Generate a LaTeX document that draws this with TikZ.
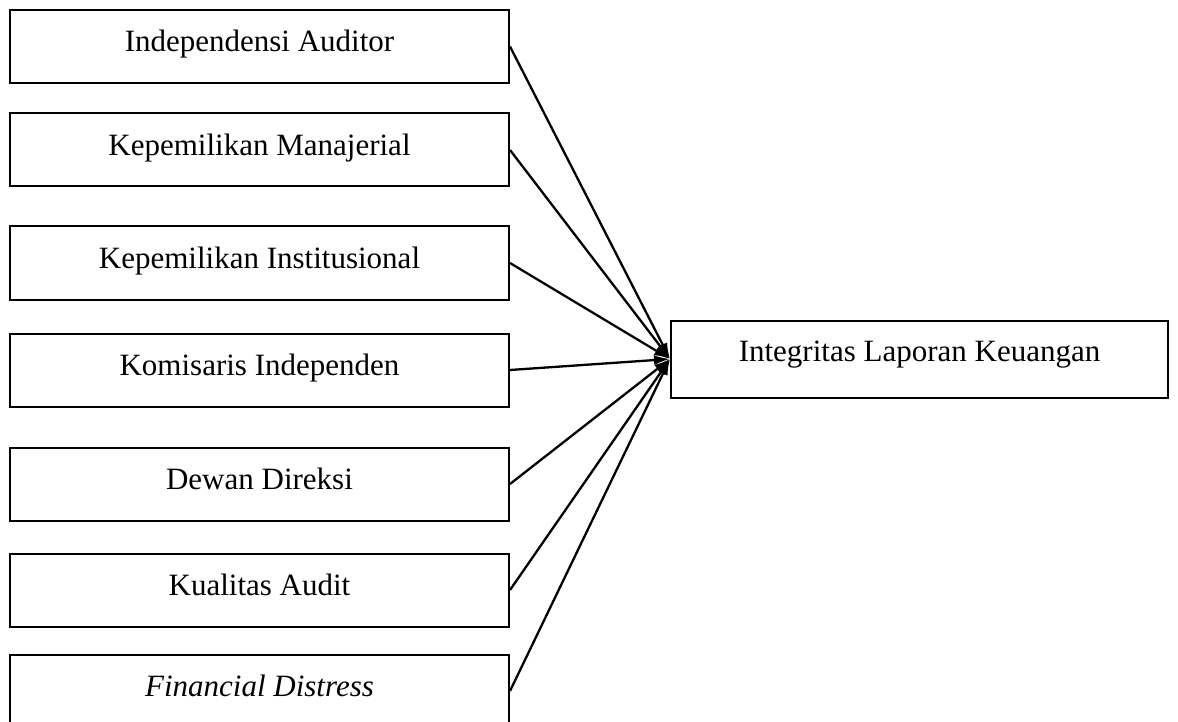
\documentclass[tikz,border=0pt]{standalone}
\usepackage{fontspec}
\setmainfont{Liberation Serif}
\usetikzlibrary{arrows.meta}
\begin{document}
\begin{tikzpicture}[x=1pt,y=-1pt,
  lbox/.style={draw, line width=2pt, minimum width=499pt, minimum height=73pt, inner sep=0pt,
    text height=22pt, text depth=11pt, font=\fontsize{31}{37}\selectfont},
  rbox/.style={draw, line width=2pt, minimum width=497pt, minimum height=77pt, inner sep=0pt,
    text height=22pt, text depth=18pt, font=\fontsize{31}{37}\selectfont},
  conn/.style={line width=2.3pt, -{Latex[length=16pt,width=10pt]}}]
\useasboundingbox (0,0) rectangle (1178,722);
\node[lbox] (A) at (259.5,46.5) {Independensi Auditor};
\node[lbox] (B) at (259.5,150) {Kepemilikan Manajerial};
\node[lbox] (C) at (259.5,263) {Kepemilikan Institusional};
\node[lbox] (D) at (259.5,370) {Komisaris Independen};
\node[lbox] (E) at (259.5,484) {Dewan Direksi};
\node[lbox] (F) at (259.5,590) {Kualitas Audit};
\node[lbox] (G) at (259.5,691) {\itshape Financial Distress};
\node[rbox] (R) at (919.5,359) {Integritas Laporan Keuangan};
\foreach \n in {A,B,C,D,E,F,G} \draw[conn] (\n.east) -- (R.west);
\end{tikzpicture}
\end{document}
